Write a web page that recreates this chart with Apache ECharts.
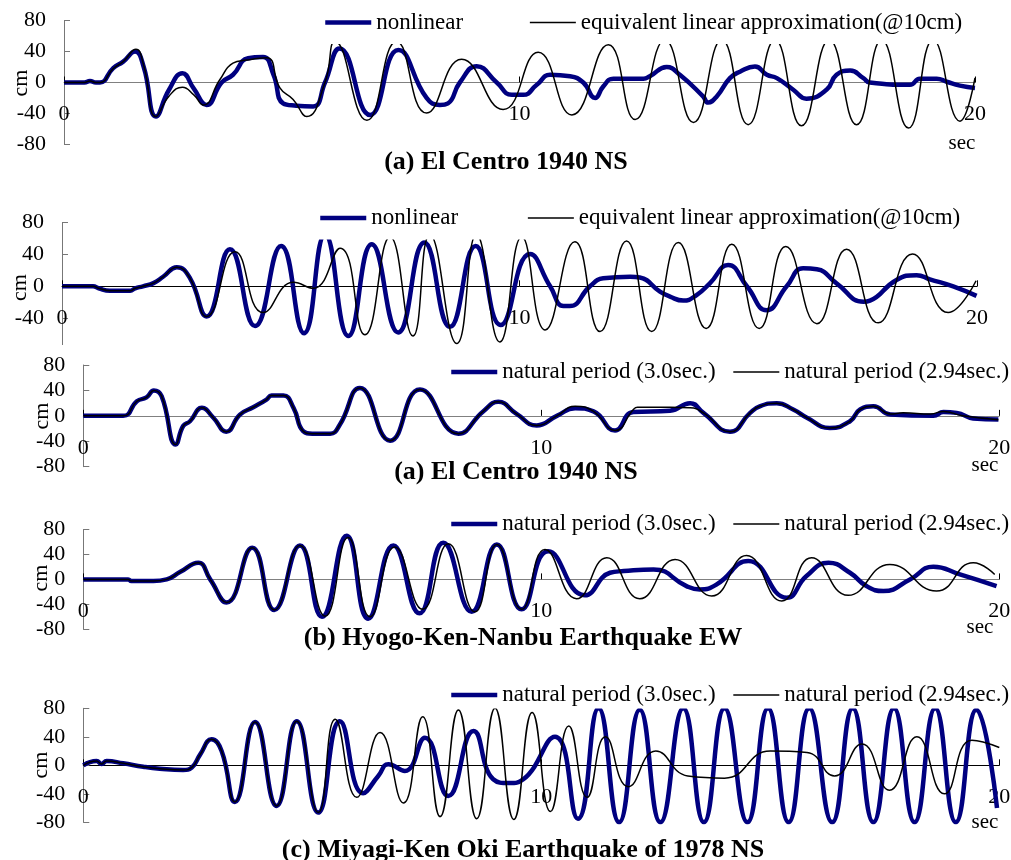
<!DOCTYPE html>
<html><head><meta charset="utf-8">
<script src="https://cdn.jsdelivr.net/npm/echarts@6/dist/echarts.min.js"></script>
<style>html,body{margin:0;padding:0;background:#fff}#c{width:1011px;height:860px}</style>
</head><body><div id="c"></div>
<script>
// ---------- data (time in sec, displacement in cm) ----------
const xTickValues = [0, 10, 20];
const yTickValues = [-80, -40, 0, 40, 80];
const nameNonlinear = 'nonlinear';
const nameEquivalent = 'equivalent linear approximation(@10cm)';
const nameT30 = 'natural period (3.0sec.)';
const nameT294 = 'natural period (2.94sec.)';
const titleA = '(a) El Centro 1940 NS';
const titleB = '(b) Hyogo-Ken-Nanbu Earthquake EW';
const titleC = '(c) Miyagi-Ken Oki Earthquake of 1978 NS';
const unitY = 'cm';
const unitX = 'sec';

// panel 1 : El Centro, nonlinear vs equivalent linear
const p1Nonlinear = [[0,0],[0.45,0],[0.57,2],[0.7,0],[0.79,0],[1.08,18.6],[1.3,27],[1.56,40],[1.75,20],[2.02,-44],[2.3,-10],[2.6,12],[2.85,-8],[3.13,-29],[3.46,0],[3.71,10],[4.04,31.5],[4.37,33],[4.6,10],[4.81,-27],[5.1,-30],[5.47,-31],[5.73,0],[6.05,44],[6.72,-42],[7.34,42],[7.96,-20],[8.25,-29],[8.43,-27],[8.69,0],[9.06,21],[9.5,0],[9.83,-16],[10.08,-16],[10.38,-3],[10.67,10],[11.11,8],[11.4,0],[11.66,-20],[11.84,-5],[12.06,5],[12.72,5],[12.86,8],[13.23,20],[13.52,10],[14.03,-18],[14.14,-26],[14.33,-18],[14.62,5.7],[14.84,14],[15.17,20.7],[15.43,10],[15.65,5.7],[16.01,-9.4],[16.3,-21],[16.74,-9.4],[16.96,10],[17.26,15.5],[17.55,5.7],[17.69,0],[18.57,-3],[18.79,5],[19.16,5],[19.38,1],[19.67,-4],[20,-7]];
const p1Equivalent = [[0,0],[0.45,0],[0.57,2],[0.7,0],[0.79,0],[1.08,18],[1.3,27],[1.58,43],[1.75,22],[2.02,-44],[2.3,-18],[2.6,-6],[2.85,-16],[3.06,-29],[3.42,3.5],[3.71,25],[4.01,29],[4.45,32],[4.74,-7],[5.03,-22],[5.33,-44],[5.73,0],[5.95,53],[6.65,-49],[7.3,53],[7.96,-39.5],[8.73,30],[9.64,-35],[10.41,39],[11.15,-42],[11.95,49],[12.54,-48],[13.19,55],[13.82,-51.7],[14.44,55],[15.02,-54.6],[15.61,55],[16.19,-56],[16.8,55],[17.4,-54.6],[17.95,55],[18.54,-59],[19.08,55],[19.67,-50],[20,6]];

// panel 2 : nonlinear vs equivalent linear
const p2Nonlinear = [[0,0],[0.68,0],[0.8,-2.5],[1.05,-5.5],[1.49,-5.5],[1.6,-2.5],[1.77,0],[2.0,4],[2.21,12],[2.51,24],[2.8,10],[3.16,-38],[3.67,46.5],[4.22,-50],[4.79,50.7],[5.29,-59],[5.75,65],[6.26,-62.5],[6.77,53],[7.35,-58],[7.92,55],[8.48,-51],[9.04,50.7],[9.59,-48.7],[10.23,40.6],[10.67,0],[10.96,-24.8],[11.1,-24.8],[11.54,0],[11.83,10],[12.42,12],[12.63,11],[13.07,-6.7],[13.29,-13],[13.58,-18],[13.87,-11],[14.16,3.7],[14.56,26.8],[14.97,0],[15.4,-30],[15.84,0],[16.2,22.6],[16.5,21.4],[16.93,3.7],[17.52,-19.4],[17.66,-18],[18.24,8],[18.68,14],[18.97,8.8],[19.48,0],[19.99,-12]];
const p2Equivalent = [[0,0],[0.68,0],[0.8,-2.5],[1.05,-5.5],[1.49,-5.5],[1.6,-2.5],[1.77,0],[2.0,4],[2.21,12],[2.51,24],[2.8,10],[3.16,-38],[3.78,43.5],[4.4,-33],[5.06,5],[5.49,-2.5],[6.08,48],[6.62,-61],[7.17,62],[7.67,-62.5],[8.04,65],[8.63,-72],[9.06,65],[9.57,-70],[10.05,62],[10.56,-55],[11.21,56],[11.76,-57],[12.34,57],[12.89,-57],[13.47,55],[14.08,-53],[14.64,53],[15.24,-53],[15.82,50],[16.5,-47],[17.15,46.5],[17.84,-46],[18.59,40.6],[19.37,-33],[19.98,7]];

// panel 3 : El Centro, natural period 3.0 vs 2.94
const p3T30 = [[0,0],[0.87,0],[1.17,23],[1.38,29],[1.54,40],[1.71,31],[2.02,-45],[2.18,-16],[2.33,-8.5],[2.59,12.6],[2.84,-3],[3.12,-25],[3.42,2],[3.71,13.5],[4.0,25.6],[4.11,32],[4.37,32],[4.59,12.6],[4.8,-24],[5.0,-28],[5.39,-28],[5.6,-14],[6.04,44],[6.7,-39],[7.35,41.4],[8.19,-28],[8.73,7],[9.06,22],[9.46,3],[9.9,-15],[10.34,0],[10.74,12],[11.14,7],[11.61,-23],[12.01,6],[12.81,8],[13.25,20],[13.54,4.7],[14.12,-25],[14.56,4.7],[14.77,15],[15.14,20],[15.5,10],[15.8,-3],[16.3,-19],[16.74,-8.5],[16.96,10],[17.25,15],[17.62,2],[18.56,0],[18.78,6],[19.07,4.7],[19.43,-4],[19.98,-5.8]];
const p3T294 = [[0,0],[0.87,0],[1.17,23],[1.38,29],[1.54,40],[1.71,31],[2.02,-45],[2.18,-16],[2.33,-8.5],[2.59,12.6],[2.84,-3],[3.12,-25],[3.42,2],[3.71,13.5],[4.0,25.6],[4.11,32],[4.37,32],[4.59,12.6],[4.8,-24],[5.0,-28],[5.39,-28],[5.6,-14],[6.04,44],[6.7,-39],[7.35,41.4],[8.19,-28],[8.73,7],[9.06,22],[9.46,3],[9.9,-15],[10.34,0],[10.74,15],[11.14,7],[11.61,-23],[12.01,10],[12.1,13.5],[12.81,13.5],[13.25,12.6],[13.54,4.7],[14.12,-25],[14.56,4.7],[14.77,15],[15.14,20],[15.5,10],[15.8,-3],[16.3,-19],[16.74,-8.5],[16.96,10],[17.25,15],[17.62,3],[17.9,4.7],[18.5,3],[18.78,7],[19.2,0],[19.98,-6]];

// panel 4 : Hyogo-Ken-Nanbu EW
const p4T30 = [[0,0],[0.98,0],[1.05,-2.7],[1.53,-2.7],[1.82,0],[2.11,11.7],[2.51,26.7],[2.77,0],[3.13,-37],[3.69,50.7],[4.17,-49],[4.73,54.4],[5.21,-60],[5.75,70],[6.22,-63],[6.77,54.4],[7.34,-54.4],[7.86,58.7],[8.48,-52],[9.03,56],[9.57,-48],[10.15,45],[10.95,-25.6],[11.5,10.7],[11.8,13.3],[12.45,16],[13.17,-10.7],[13.46,-16],[13.83,-8],[14.52,29.3],[15.36,-29.3],[15.79,5.3],[16.27,26.7],[16.74,10.7],[17.1,-10.7],[17.47,-18.7],[18.05,0],[18.56,20.3],[19.14,8],[19.94,-10.7]];
const p4T294 = [[0,0],[0.98,0],[1.05,-2.7],[1.53,-2.7],[1.82,0],[2.11,11.7],[2.51,26.7],[2.77,0],[3.13,-37],[3.69,50.7],[4.17,-49],[4.73,54.4],[5.28,-59],[5.78,67],[6.26,-60],[6.8,52],[7.41,-48],[7.97,57],[8.55,-52],[9.03,56],[9.57,-48],[10.08,48],[10.77,-31],[11.43,34.7],[12.15,-31],[12.92,32],[13.72,-26.7],[14.48,38.4],[15.25,-34.7],[15.9,34.7],[16.7,-25.6],[17.61,24],[18.63,-18.7],[19.43,26.7],[19.9,8]];

// panel 5 : Miyagi-Ken Oki 1978 NS
const p5T30 = [[0,0],[0.29,6],[0.4,2],[0.51,6],[0.87,2.8],[1.31,-2],[1.67,-4.7],[2.18,-6.5],[2.37,-3],[2.55,15],[2.8,36.5],[3.02,20],[3.31,-51.5],[3.75,60.8],[4.22,-57],[4.66,62],[5.13,-66.4],[5.6,62],[6.11,-39.3],[6.44,-15],[6.66,1.4],[7.02,-8],[7.46,38.8],[7.97,-43],[8.52,48],[8.95,-19.6],[9.3,-25],[9.6,-20],[10.3,40],[10.8,-75],[11.25,80],[11.7,-80],[12.15,78],[12.6,-80],[13.1,80],[13.55,-80],[14.0,80],[14.5,-80],[14.95,80],[15.4,-80],[15.85,80],[16.35,-80],[16.8,80],[17.25,-80],[17.7,80],[18.15,-80],[18.6,80],[19.05,-80],[19.5,78],[19.95,-60]];
const p5T294 = [[0,0],[0.29,6],[0.4,2],[0.51,6],[0.87,2.8],[1.31,-2],[1.67,-4.7],[2.18,-6.5],[2.37,-3],[2.55,15],[2.8,36.5],[3.02,20],[3.31,-51.5],[3.75,60.8],[4.22,-57],[4.66,62],[5.13,-66.4],[5.5,64.5],[5.97,-45],[6.48,46],[6.99,-53],[7.41,68],[7.79,-72],[8.19,77.6],[8.59,-75],[8.99,80],[9.4,-76],[9.8,74],[10.2,-65],[10.6,55],[11.0,-45],[11.4,40],[11.9,-30],[12.5,20],[13.2,-15],[14.0,-18],[15.0,20],[15.8,18],[16.4,-15],[17.0,30],[17.6,-35],[18.2,40],[18.8,-40],[19.4,35],[20,25]];

// ---------- layout ----------
const FONT = '"Liberation Serif","Times New Roman",serif';
const NAVY = '#000080';
const BLUE_W = 4.5, BLACK_W = 1.5;
const panels = [
  {left:64, width:911, top:20.7, height:123.6, zero:'#808080', blue:[nameNonlinear,p1Nonlinear], black:[nameEquivalent,p1Equivalent],
   legend:{left:315, top:0, padding:[11,8,10,8], itemGap:66, width:700}, cm:[21,83], sec:[962,143], title:[506,162,titleA]},
  {left:62, width:915, top:222.7, height:127.2, zero:'#000000', blue:[nameNonlinear,p2Nonlinear], black:[nameEquivalent,p2Equivalent],
   legend:{left:310, top:195.5, padding:[11,8,10,8], itemGap:69, width:700}, cm:[20,287.5], sec:null, title:null, hideMin:true},
  {left:83.3, width:916, top:365, height:101.7, zero:'#808080', blue:[nameT30,p3T30], black:[nameT294,p3T294],
   legend:{left:445, top:358.5, padding:[2,4,2,4], itemGap:17, width:640}, cm:[42.5,416], sec:[985,465], title:[516,472,titleA]},
  {left:83.3, width:916, top:529.5, height:99.8, zero:'#808080', blue:[nameT30,p4T30], black:[nameT294,p4T294],
   legend:{left:445, top:510.5, padding:[2,4,2,4], itemGap:17, width:640}, cm:[41,578], sec:[980,627], title:[523,638.5,titleB]},
  {left:83.3, width:916, top:708.3, height:114, zero:'#000000', blue:[nameT30,p5T30], black:[nameT294,p5T294],
   legend:{left:445, top:681.5, padding:[2,4,2,4], itemGap:17, width:640}, cm:[41.7,765], sec:[985,822], title:[523,850.5,titleC]}
];

const grid = [], xAxis = [], yAxis = [], series = [], legend = [], graphic = [];
panels.forEach((p, i) => {
  grid.push({left:p.left, top:p.top, width:p.width, height:p.height, containLabel:false, outerBoundsMode:'none'});
  // x axis drawn through y = 0 (middle of the symmetric y range)
  xAxis.push({type:'value', gridIndex:i, position:'bottom', offset:-p.height/2,
    min:xTickValues[0], max:xTickValues[xTickValues.length-1], interval:xTickValues[1]-xTickValues[0],
    axisLine:{show:true, onZero:false, lineStyle:{color:p.zero, width:1}},
    axisTick:{show:true, inside:true, length:6, lineStyle:{color:'#000'}},
    axisLabel:{margin:21, fontFamily:FONT, fontSize:22, color:'#000'},
    splitLine:{show:false}});
  yAxis.push({type:'value', gridIndex:i, min:yTickValues[0], max:yTickValues[yTickValues.length-1], interval:yTickValues[1]-yTickValues[0],
    axisLine:{show:true, onZero:false, lineStyle:{color:'#777', width:1}},
    axisTick:{show:true, inside:true, length:6, lineStyle:{color:'#777'}},
    axisLabel:{margin:18, fontFamily:FONT, fontSize:22, color:'#000', showMinLabel: !p.hideMin},
    splitLine:{show:false}});
  series.push({type:'line', name:p.blue[0], xAxisIndex:i, yAxisIndex:i, data:p.blue[1], symbol:'none', smooth:0.5,
    lineStyle:{color:NAVY, width:BLUE_W}, itemStyle:{color:NAVY}, z:2});
  series.push({type:'line', name:p.black[0], xAxisIndex:i, yAxisIndex:i, data:p.black[1], symbol:'none', smooth:0.5,
    lineStyle:{color:'#000', width:BLACK_W}, itemStyle:{color:'#000'}, z:3});
  legend.push(Object.assign({orient:'horizontal', itemWidth:46, itemHeight:14, backgroundColor:'#fff', selectedMode:false,
    itemStyle:{opacity:0, borderWidth:0},
    textStyle:{fontFamily:FONT, fontSize:23, color:'#000'},
    data:[{name:p.blue[0], lineStyle:{width:BLUE_W, color:NAVY}, itemStyle:{opacity:0}},
          {name:p.black[0], lineStyle:{width:BLACK_W, color:'#000'}, itemStyle:{opacity:0}}], z:10}, p.legend));
  graphic.push({type:'text', x:p.cm[0], y:p.cm[1], rotation:Math.PI/2, z:50,
    style:{text:unitY, font:'22px ' + FONT, fill:'#000', textAlign:'center', textVerticalAlign:'middle'}});
  if (p.sec) graphic.push({type:'text', x:p.sec[0], y:p.sec[1], z:50,
    style:{text:unitX, font:'21px ' + FONT, fill:'#000', textAlign:'center', textVerticalAlign:'middle'}});
  if (p.title) graphic.push({type:'text', x:p.title[0], y:p.title[1], z:50,
    style:{text:p.title[2], font:'bold 26px ' + FONT, fill:'#000', textAlign:'center', textVerticalAlign:'middle'}});
});
// panel 3 sits over the bottom edge of panel 2
graphic.push({type:'rect', shape:{x:0, y:345, width:1011, height:8}, style:{fill:'#fff'}, z:100});

const chart = echarts.init(document.getElementById('c'), null, {renderer:'canvas'});
chart.setOption({animation:false, backgroundColor:'#fff', grid, xAxis, yAxis, series, legend, graphic});
</script></body></html>
